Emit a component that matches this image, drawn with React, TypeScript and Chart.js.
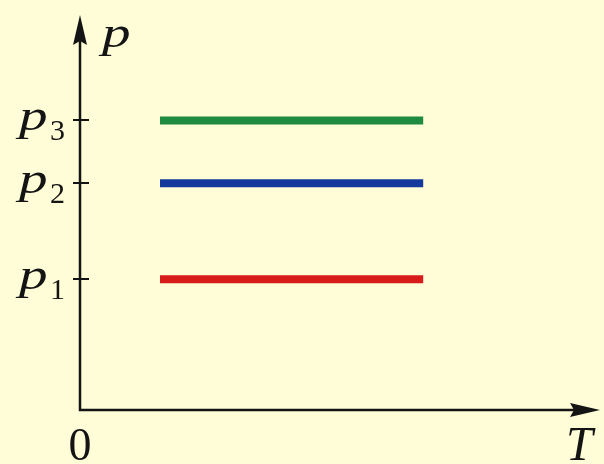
import React, { useEffect, useRef } from 'react';
import { Chart, registerables } from 'chart.js';

Chart.register(...registerables);

// Temperature span of each isobar (T axis units)
const tValues = [2, 8.58];
// Pressures of the three isobars p1 < p2 < p3
const pValues = [3.31, 5.74, 7.33];
const pSubscripts = ['1', '2', '3'];
const seriesColors = ['#d71a1a', '#15389c', '#1e8b3e'];
// Axis names and origin label
const axisLabels = { y: 'p', x: 'T', origin: '0' };
const xMax = 13;
const yMax = 10;

const SERIF = '"Liberation Serif", "Times New Roman", serif';
const INK = '#141414';

// Draws text stretched horizontally by sx, anchored at its left baseline point
function wideText(ctx: CanvasRenderingContext2D, text: string, x: number, y: number, sx: number) {
  ctx.save();
  ctx.translate(x, y);
  ctx.scale(sx, 1);
  ctx.fillText(text, 0, 0);
  ctx.restore();
}

const axesPlugin = {
  id: 'ptAxes',
  beforeDatasetsDraw(chart: any) {
    const { ctx, scales } = chart;
    const x = scales.x;
    const y = scales.y;
    const ox = x.getPixelForValue(0);
    const oy = y.getPixelForValue(0);
    const xEnd = x.getPixelForValue(xMax);
    const yEnd = y.getPixelForValue(yMax);
    ctx.save();
    ctx.strokeStyle = INK;
    ctx.fillStyle = INK;
    ctx.lineWidth = 2.5;
    ctx.beginPath();
    ctx.moveTo(ox, oy);
    ctx.lineTo(ox, yEnd + 20);
    ctx.moveTo(ox - 1.25, oy);
    ctx.lineTo(xEnd - 20, oy);
    ctx.stroke();
    // arrowheads
    ctx.beginPath();
    ctx.moveTo(ox, yEnd);
    ctx.lineTo(ox - 7, yEnd + 30);
    ctx.lineTo(ox, yEnd + 26);
    ctx.lineTo(ox + 7, yEnd + 30);
    ctx.closePath();
    ctx.fill();
    ctx.beginPath();
    ctx.moveTo(xEnd, oy);
    ctx.lineTo(xEnd - 30, oy - 7);
    ctx.lineTo(xEnd - 26, oy);
    ctx.lineTo(xEnd - 30, oy + 7);
    ctx.closePath();
    ctx.fill();
    // tick marks at the isobar pressures
    ctx.lineWidth = 2;
    pValues.forEach((v) => {
      const py = Math.round(y.getPixelForValue(v));
      ctx.beginPath();
      ctx.moveTo(ox - 7, py);
      ctx.lineTo(ox + 9, py);
      ctx.stroke();
    });
    ctx.restore();
  },
  afterDraw(chart: any) {
    const { ctx, scales } = chart;
    const x = scales.x;
    const y = scales.y;
    const ox = x.getPixelForValue(0);
    const oy = y.getPixelForValue(0);
    const xEnd = x.getPixelForValue(xMax);
    const yEnd = y.getPixelForValue(yMax);
    ctx.save();
    ctx.fillStyle = INK;
    ctx.textBaseline = 'alphabetic';
    ctx.textAlign = 'left';
    // tick labels p with subscripts
    pValues.forEach((v, i) => {
      const py = y.getPixelForValue(v);
      ctx.font = `italic 44px ${SERIF}`;
      wideText(ctx, 'p', ox - 61, py + 10, 1.3);
      ctx.font = `30px ${SERIF}`;
      ctx.fillText(pSubscripts[i], ox - 30, py + 20);
    });
    // axis names
    ctx.font = `italic 44px ${SERIF}`;
    wideText(ctx, axisLabels.y, ox + 22, yEnd + 32, 1.3);
    ctx.font = `italic 48px ${SERIF}`;
    ctx.fillText(axisLabels.x, xEnd - 34, oy + 50);
    ctx.font = `46px ${SERIF}`;
    ctx.textAlign = 'center';
    ctx.fillText(axisLabels.origin, ox, oy + 50);
    ctx.restore();
  },
};

export default function App() {
  const canvasRef = useRef<HTMLCanvasElement | null>(null);

  useEffect(() => {
    const canvas = canvasRef.current;
    if (!canvas) return;
    const chart = new Chart(canvas, {
      type: 'line',
      data: {
        datasets: pValues.map((p, i) => ({
          label: `p${pSubscripts[i]}`,
          data: tValues.map((t) => ({ x: t, y: p })),
          borderColor: seriesColors[i],
          backgroundColor: seriesColors[i],
          borderWidth: 8,
          borderCapStyle: 'butt' as const,
          pointRadius: 0,
          fill: false,
        })),
      },
      options: {
        responsive: false,
        animation: false,
        devicePixelRatio: 1,
        layout: { padding: { left: 80, top: 15, right: 4, bottom: 54 } },
        plugins: {
          legend: { display: false },
          tooltip: { enabled: false },
        },
        scales: {
          x: { type: 'linear', min: 0, max: xMax, display: false },
          y: { type: 'linear', min: 0, max: yMax, display: false },
        },
      },
      plugins: [axesPlugin],
    });
    return () => chart.destroy();
  }, []);

  return (
    <div
      style={{
        position: 'fixed',
        left: 0,
        top: 0,
        width: 604,
        height: 464,
        background: '#fefdd8',
      }}
    >
      <canvas ref={canvasRef} width={604} height={464} style={{ display: 'block' }} />
    </div>
  );
}
